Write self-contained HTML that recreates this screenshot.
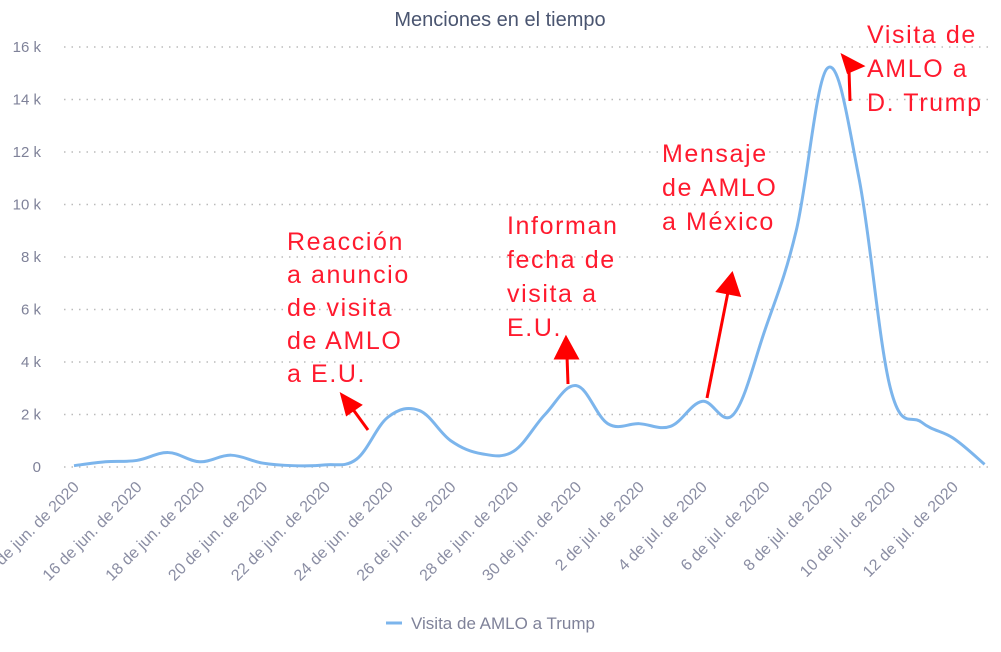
<!DOCTYPE html>
<html><head><meta charset="utf-8"><style>
body{margin:0;background:#fff;}
svg{display:block;font-family:"Liberation Sans",sans-serif;}
</style></head><body>
<svg id="s" width="1001" height="652" xmlns="http://www.w3.org/2000/svg">
<text x="500" y="26" text-anchor="middle" font-size="20" fill="#4a5570">Menciones en el tiempo</text>
<g id="grid" stroke="#bbbbbb" stroke-width="1.5" stroke-dasharray="1.5,6"></g>
<g id="yl" font-size="15" fill="#7f8299" text-anchor="end"></g>
<g id="xl" font-size="16" fill="#8a8da3" text-anchor="end"></g>
<path id="line" fill="none" stroke="#7cb5ec" stroke-width="3"/>
<g fill="#ff1a2e" font-size="25" letter-spacing="1.6">
<text x="287" y="250">Reacción</text>
<text x="287" y="283">a anuncio</text>
<text x="287" y="316">de visita</text>
<text x="287" y="349">de AMLO</text>
<text x="287" y="382">a E.U.</text>
<text x="507" y="234">Informan</text>
<text x="507" y="268">fecha de</text>
<text x="507" y="302">visita a</text>
<text x="507" y="336">E.U.</text>
<text x="662" y="162">Mensaje</text>
<text x="662" y="196">de AMLO</text>
<text x="662" y="230">a México</text>
<text x="867" y="43">Visita de</text>
<text x="867" y="77">AMLO a</text>
<text x="867" y="111">D. Trump</text>
</g>
<g stroke="#ff0000" stroke-width="3" fill="#ff0000">
<line x1="368" y1="430" x2="352" y2="408"/><polygon points="342,395 360,405 347,414"/>
<line x1="568" y1="384" x2="567" y2="356"/><polygon points="566,338 577,358 556,358"/>
<line x1="707" y1="398" x2="728" y2="292"/><polygon points="732,274 739,295 718,291"/>
<line x1="850" y1="101" x2="849" y2="70"/><polygon points="843,56 862,66 848,72"/>
</g>
<line x1="386" y1="623" x2="402" y2="623" stroke="#7cb5ec" stroke-width="3"/>
<text x="411" y="629" font-size="17" fill="#7f8299">Visita de AMLO a Trump</text>
</svg>
<script>
var NS="http://www.w3.org/2000/svg";
function el(t,a,txt){var e=document.createElementNS(NS,t);for(var k in a)e.setAttribute(k,a[k]);if(txt)e.textContent=txt;return e;}
var y0=467,py=26.25,x0=74,dx=31.4;
for(var i=0;i<=8;i++){var y=y0-i*2*py;
document.getElementById('grid').appendChild(el('line',{x1:64,x2:990,y1:y,y2:y}));
document.getElementById('yl').appendChild(el('text',{x:41,y:y+5},i==0?'0':(i*2)+' k'));}
var labs=['14 de jun. de 2020','16 de jun. de 2020','18 de jun. de 2020','20 de jun. de 2020','22 de jun. de 2020','24 de jun. de 2020','26 de jun. de 2020','28 de jun. de 2020','30 de jun. de 2020','2 de jul. de 2020','4 de jul. de 2020','6 de jul. de 2020','8 de jul. de 2020','10 de jul. de 2020','12 de jul. de 2020'];
labs.forEach(function(l,i){var x=x0+i*2*dx+6,y=488;
document.getElementById('xl').appendChild(el('text',{x:x,y:y,transform:'rotate(-45 '+x+' '+y+')'},l));});
var v=[0.05,0.2,0.25,0.55,0.2,0.45,0.15,0.05,0.08,0.3,1.9,2.15,1.0,0.5,0.6,2.0,3.1,1.65,1.65,1.55,2.5,2.0,5.2,9.0,15.2,11.0,3.0,1.7,1.1,0.1];
var p=v.map(function(a,i){return [x0+i*dx,y0-a*py];});
var d='M'+p[0][0]+','+p[0][1];
for(var i=0;i<p.length-1;i++){var a=p[i-1]||p[i],b=p[i],c=p[i+1],e=p[i+2]||c,t=0.18;
d+=' C'+(b[0]+(c[0]-a[0])*t)+','+(b[1]+(c[1]-a[1])*t)+' '+(c[0]-(e[0]-b[0])*t)+','+(c[1]-(e[1]-b[1])*t)+' '+c[0]+','+c[1];}
document.getElementById('line').setAttribute('d',d);
</script>
</body></html>
